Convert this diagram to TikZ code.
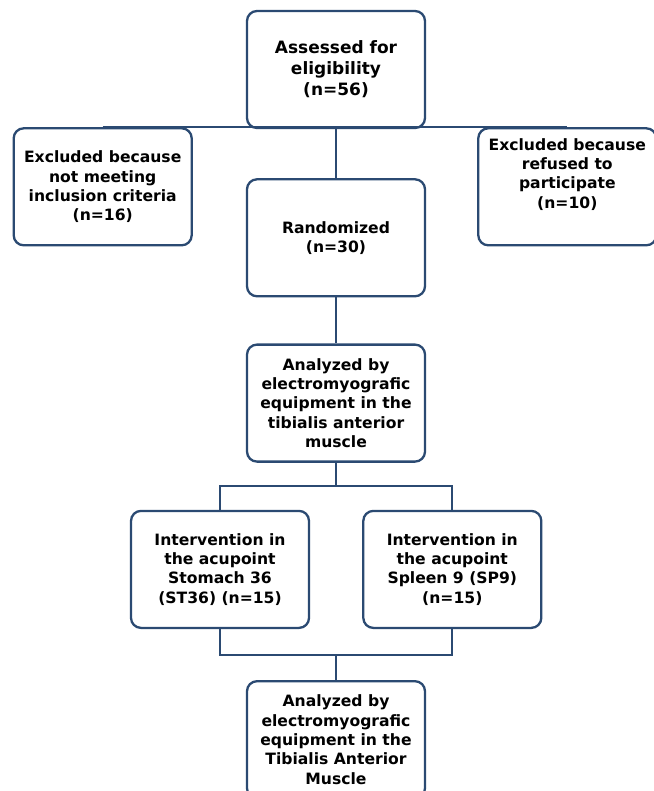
\documentclass[tikz,border=0pt]{standalone}
\usepackage{fontspec}
\setmainfont{DejaVu Sans}
\usepackage{xcolor}
\usepackage{tikz}
\usetikzlibrary{positioning}
\definecolor{FlowBlue}{HTML}{2B4A72}

\begin{document}
\begin{tikzpicture}[font=\bfseries\fontsize{15.6}{19.3}\selectfont, x=1pt, y=1pt]
\tikzset{box/.style={draw=FlowBlue, line width=2.3pt, rounded corners=10pt, align=center, minimum width=178pt, minimum height=117pt, inner sep=2pt, fill=white}, bigbox/.style={box, font=\bfseries\fontsize{17}{21}\selectfont}, link/.style={draw=FlowBlue, line width=2.3pt}}
\useasboundingbox (0,0) rectangle (653,-791);
\node[bigbox] (assess) at (336,-69.5) {Assessed for\\eligibility\\(n=56)};
\node[box, below=49pt of assess] (rand) {Randomized\\(n=30)};
\node[box, below left=-2pt and 53pt of assess] (exclcrit) {Excluded because\\not meeting\\inclusion criteria\\(n=16)};
\node[box, below right=-2pt and 51pt of assess] (exclref) {Excluded because\\refused to\\participate\\(n=10)\\[8pt]};
\node[box, below=46pt of rand] (emgpre) {Analyzed by\\electromyografic\\equipment in the\\tibialis anterior\\muscle};
\node[box, below=47pt of emgpre, xshift=-116pt] (stom) {Intervention in\\the acupoint\\Stomach 36\\(ST36) (n=15)};
\node[box, right=52pt of stom] (spleen) {Intervention in\\the acupoint\\Spleen 9 (SP9)\\(n=15)};
\node[box, below=51pt of stom, xshift=116pt] (emgpost) {Analyzed by\\electromyografic\\equipment in the\\Tibialis Anterior\\Muscle};
\coordinate[below=23pt of emgpre.south] (split);
\coordinate[above=25pt of emgpost.north] (join);
\draw[link] (exclcrit.north) -- (exclref.north);
\foreach \a/\b in {assess.south/rand.north,rand.south/emgpre.north,emgpre.south/split,join/emgpost.north} \draw[link] (\a)--(\b);
\draw[link] (stom.north) |- (split) -| (spleen.north);
\draw[link] (stom.south) |- (join) -| (spleen.south);
\end{tikzpicture}
\end{document}
